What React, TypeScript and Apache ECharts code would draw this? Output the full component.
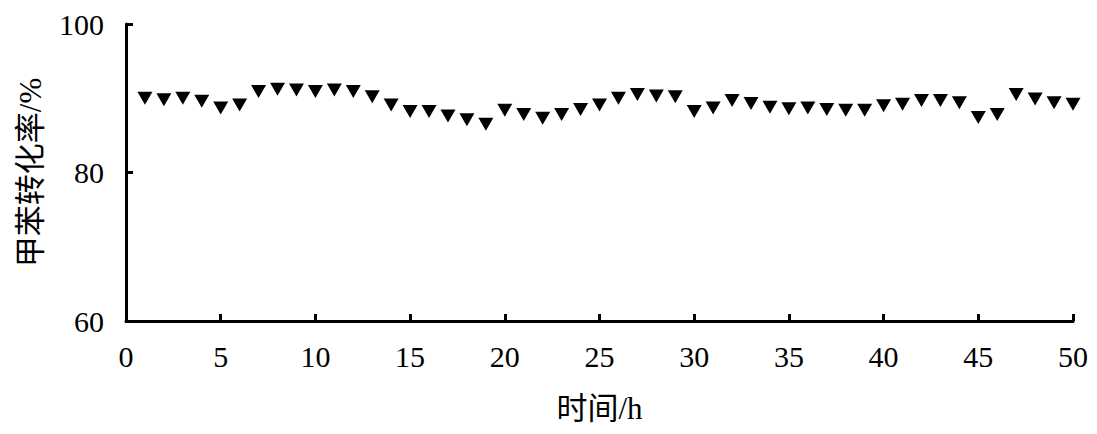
import React, { useEffect, useRef } from "react";
import * as echarts from "echarts";

const hours: number[] = Array.from({ length: 50 }, (_, i) => i + 1);
const conversion: number[] = [
  90.0, 89.8, 90.0, 89.6, 88.7, 89.1, 90.9, 91.2, 91.1, 90.9,
  91.1, 90.9, 90.2, 89.1, 88.2, 88.2, 87.6, 87.1, 86.5, 88.4,
  87.8, 87.3, 87.8, 88.5, 89.1, 90.0, 90.5, 90.3, 90.2, 88.2,
  88.7, 89.7, 89.3, 88.8, 88.6, 88.7, 88.5, 88.4, 88.4, 89.0,
  89.2, 89.7, 89.7, 89.4, 87.4, 87.8, 90.5, 89.9, 89.4, 89.2,
];
const xTicks = { min: 0, max: 50, interval: 5 };
const yTicks = { min: 60, max: 100, interval: 20 };

const FONT = "'Liberation Serif', 'Noto Sans CJK SC', serif";

export default function App() {
  const ref = useRef<HTMLDivElement>(null);
  useEffect(() => {
    document.body.style.margin = "0";
    if (!ref.current) return;
    const chart = echarts.init(ref.current, undefined, { renderer: "svg" });
    const axisCommon = {
      axisLine: { show: true, lineStyle: { color: "#000", width: 3 } },
      axisTick: { show: true, inside: true, length: 7, lineStyle: { color: "#000", width: 3 } },
      splitLine: { show: false },
      axisLabel: { color: "#000", fontSize: 30, fontFamily: FONT },
      nameTextStyle: { color: "#000", fontSize: 31, fontFamily: FONT },
    };
    chart.setOption({
      animation: false,
      backgroundColor: "#fff",
      grid: { left: 126, right: 24, top: 24, bottom: 113 },
      xAxis: {
        type: "value",
        ...xTicks,
        name: "时间/h",
        nameLocation: "middle",
        nameGap: 72,
        ...axisCommon,
        axisLabel: { ...axisCommon.axisLabel, margin: 20 },
      },
      yAxis: {
        type: "value",
        ...yTicks,
        name: "甲苯转化率/%",
        nameLocation: "middle",
        nameGap: 80,
        ...axisCommon,
        axisLabel: { ...axisCommon.axisLabel, margin: 22 },
      },
      series: [
        {
          type: "scatter",
          data: hours.map((h, i) => [h, conversion[i]]),
          symbol: "triangle",
          symbolRotate: 180,
          symbolSize: [15, 13],
          itemStyle: { color: "#000", opacity: 1 },
          clip: true,
        },
      ],
    });
    return () => chart.dispose();
  }, []);
  return <div ref={ref} style={{ width: 1097, height: 434 }} />;
}
